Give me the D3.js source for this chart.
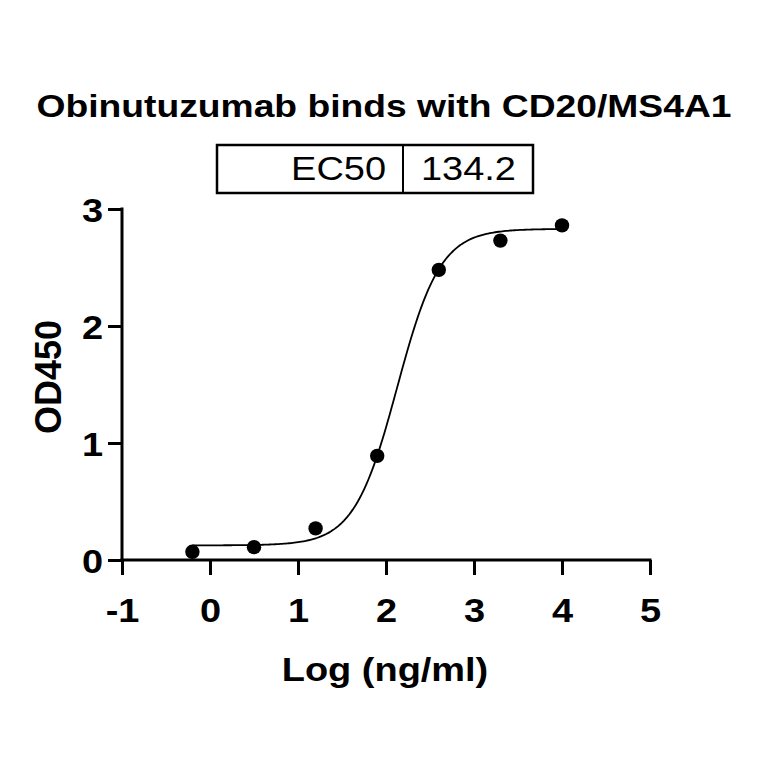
<!DOCTYPE html>
<html>
<head>
<meta charset="utf-8">
<script src="https://cdn.jsdelivr.net/npm/d3@7"></script>
<style>
  html, body { margin: 0; padding: 0; background: #fff; }
  svg { display: block; }
  text { font-family: "Liberation Sans", Arial, Helvetica, sans-serif; fill: #000; }
</style>
</head>
<body>
<svg id="chart" width="764" height="764"></svg>
<script>
// ---- data ----
const logConc = [-0.2, 0.5, 1.2, 1.9, 2.6, 3.3, 4.0];
const od450   = [0.07, 0.11, 0.27, 0.89, 2.48, 2.73, 2.86];
const xTicks  = [-1, 0, 1, 2, 3, 4, 5];
const xTickLabels = ["-1", "0", "1", "2", "3", "4", "5"];
const yTicks  = [0, 1, 2, 3];
const yTickLabels = ["0", "1", "2", "3"];
// 4PL fit parameters: [bottom, top, EC50 (ng/ml), hill slope]
const fitParams = [0.125, 2.83, 134.2, 1.77];
const tableLabels = ["EC50", "134.2"];
const titleText = "Obinutuzumab binds with CD20/MS4A1";
const xTitle = "Log (ng/ml)";
const yTitle = "OD450";

// ---- layout ----
const SX = 1.15; // horizontal text stretch seen in the reference
const svg = d3.select("#chart");
const x = d3.scaleLinear().domain([-1, 5]).range([122, 650]);
const y = d3.scaleLinear().domain([0, 3]).range([560, 209]);

function label(sel, txt, px, py, opts) {
  const t = sel.append("text")
    .attr("transform", `translate(${px},${py}) scale(${opts.sx || SX},1)`)
    .attr("text-anchor", opts.anchor || "middle")
    .attr("font-size", opts.size)
    .attr("font-weight", opts.weight || "normal")
    .text(txt);
  if (opts.len) t.attr("textLength", opts.len / (opts.sx || SX)).attr("lengthAdjust", "spacingAndGlyphs");
  return t;
}

// Title
label(svg, titleText, 384, 117, { size: 32, weight: "bold", len: 695 });

// EC50 table
const tb = svg.append("g");
tb.append("rect").attr("x", 217).attr("y", 145).attr("width", 316).attr("height", 48)
  .attr("fill", "none").attr("stroke", "#000").attr("stroke-width", 2.5);
tb.append("line").attr("x1", 403).attr("x2", 403).attr("y1", 145).attr("y2", 193)
  .attr("stroke", "#000").attr("stroke-width", 2);
label(tb, tableLabels[0], 386, 180, { size: 33, anchor: "end" });
label(tb, tableLabels[1], 421, 180, { size: 33, anchor: "start" });

// Axes
const axisW = 3;
const gx = svg.append("g").attr("transform", "translate(0,560)")
  .call(d3.axisBottom(x).tickValues(xTicks).tickSize(15).tickSizeOuter(0).tickPadding(8)
    .tickFormat((d, i) => xTickLabels[i]));
const gy = svg.append("g").attr("transform", "translate(122,0)")
  .call(d3.axisLeft(y).tickValues(yTicks).tickSize(14).tickSizeOuter(0).tickPadding(6)
    .tickFormat((d, i) => yTickLabels[i]));
[gx, gy].forEach(g => {
  g.select(".domain").attr("stroke", "#000").attr("stroke-width", axisW).attr("stroke-linecap", "square");
  g.selectAll(".tick line").attr("stroke", "#000").attr("stroke-width", axisW);
  g.selectAll(".tick text").attr("font-size", 33).attr("font-weight", "bold")
    .attr("font-family", '"Liberation Sans", Arial, sans-serif').attr("fill", "#000");
});
gx.selectAll(".tick text").attr("y", 0).attr("dy", 0)
  .attr("transform", `translate(0,62) scale(${SX},1)`);
gy.selectAll(".tick text").attr("x", 0).attr("dy", 0)
  .attr("transform", `translate(-19,12) scale(${SX},1)`);
gy.select(".domain").attr("d", `M0,${y(3)}V${y(0)}`);
gx.select(".domain").attr("d", `M${x(-1)},0H${x(5)}`);

// Axis titles
label(svg, xTitle, 385, 681, { size: 33, weight: "bold" });
const yt = svg.append("g").attr("transform", "translate(61,377) rotate(-90)");
yt.append("text").attr("text-anchor", "middle").attr("font-size", 36).attr("font-weight", "bold")
  .text(yTitle);

// Fitted curve
const [fitBottom, fitTop, fitEC50, fitHill] = fitParams;
const logEC = Math.log10(fitEC50);
const fit = v => fitBottom + (fitTop - fitBottom) / (1 + Math.pow(10, (logEC - v) * fitHill));
const curveX = d3.range(logConc[0], logConc[logConc.length - 1] + 1e-9, 0.02);
svg.append("path")
  .datum(curveX)
  .attr("fill", "none").attr("stroke", "#000").attr("stroke-width", 1.8)
  .attr("d", d3.line().x(d => x(d)).y(d => y(fit(d))));

// Points
svg.append("g").selectAll("circle")
  .data(logConc.map((c, i) => ({ c, v: od450[i] })))
  .join("circle")
  .attr("cx", d => x(d.c)).attr("cy", d => y(d.v)).attr("r", 7.2).attr("fill", "#000");
</script>
</body>
</html>
